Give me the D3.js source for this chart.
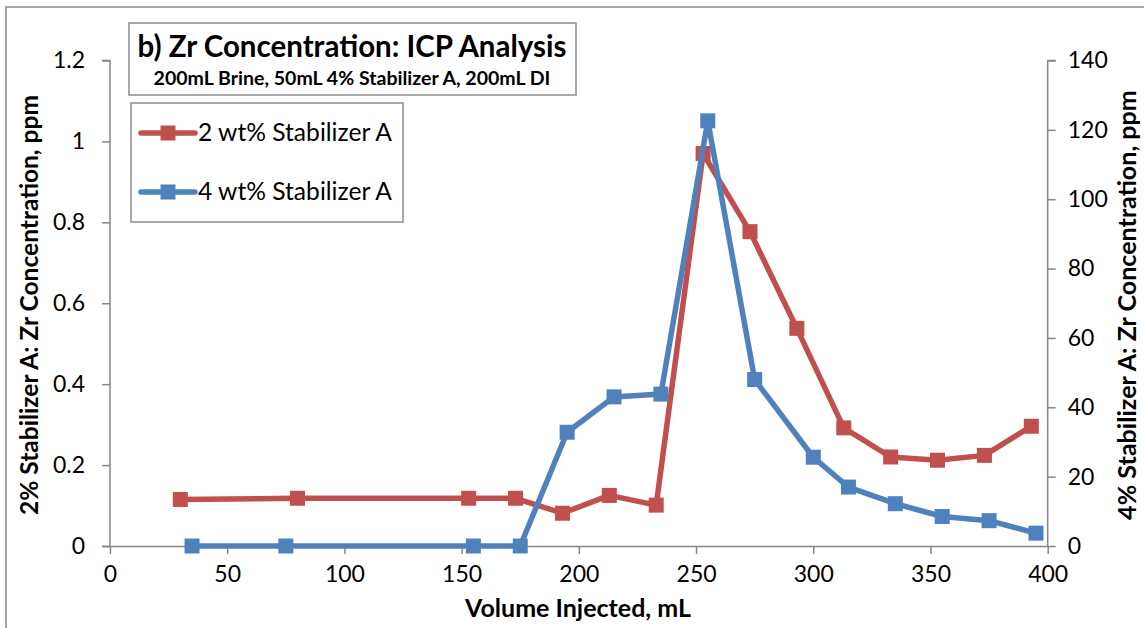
<!DOCTYPE html>
<html>
<head>
<meta charset="utf-8">
<script src="https://cdn.jsdelivr.net/npm/d3@7"></script>
<style>
  body { margin: 0; background: #fff; }
  text { font-family: Lato, "Open Sans", sans-serif; fill: #000; }
</style>
</head>
<body>
<div id="chart"></div>
<script>
// Data
var volume2 = [30, 80, 153, 173, 193, 213, 233, 253, 273, 293, 313, 333, 353, 373, 393];
var conc2 = [0.115, 0.118, 0.118, 0.118, 0.081, 0.125, 0.101, 0.97, 0.777, 0.538, 0.292, 0.22, 0.212, 0.224, 0.296];
var volume4 = [35, 75, 155, 175, 195, 215, 235, 255, 275, 300, 315, 335, 355, 375, 395];
var conc4 = [0, 0, 0, 0, 32.8, 43, 43.8, 122.6, 48, 25.6, 17, 12.2, 8.5, 7.3, 3.7];
var xTicks = [0, 50, 100, 150, 200, 250, 300, 350, 400];
var leftTicks = [0, 0.2, 0.4, 0.6, 0.8, 1, 1.2];
var rightTicks = [0, 20, 40, 60, 80, 100, 120, 140];
var seriesNames = ["2 wt% Stabilizer A", "4 wt% Stabilizer A"];

var width = 1144, height = 628;
var red = "#c0504d", blue = "#4f81bd", axisGray = "#868686";

// Plot area
var plotLeft = 110, plotRight = 1047.7, plotTop = 60.5, plotBottom = 546;

function fitWidth(sel, target) {
  var w = sel.node().getComputedTextLength();
  var fs = parseFloat(sel.style("font-size"));
  sel.style("font-size", (fs * target / w) + "px");
}

var svg = d3.select("#chart").append("svg")
  .attr("width", width)
  .attr("height", height);

// Outer chart border (runs off the picture at right and bottom)
svg.append("rect")
  .attr("x", 6).attr("y", 7)
  .attr("width", 1200).attr("height", 700)
  .attr("fill", "none")
  .attr("stroke", "#8c8c8c")
  .attr("stroke-width", 1.5);

var x = d3.scaleLinear().domain([0, 400]).range([plotLeft, plotRight]);
var yL = d3.scaleLinear().domain([0, 1.2]).range([plotBottom, plotTop]);
var yR = d3.scaleLinear().domain([0, 140]).range([plotBottom, plotTop]);

// Axes
var xAxis = svg.append("g")
  .attr("transform", "translate(0," + plotBottom + ")")
  .call(d3.axisBottom(x).tickValues(xTicks).tickSize(8).tickPadding(12).tickFormat(d3.format("d")));

var yAxisL = svg.append("g")
  .attr("transform", "translate(" + plotLeft + ",0)")
  .call(d3.axisLeft(yL).tickValues(leftTicks).tickSize(8).tickPadding(17).tickFormat(function(d) { return String(d); }));

var yAxisR = svg.append("g")
  .attr("transform", "translate(" + plotRight + ",0)")
  .call(d3.axisRight(yR).tickValues(rightTicks).tickSize(8).tickPadding(12).tickFormat(d3.format("d")));

[xAxis, yAxisL, yAxisR].forEach(function(g) {
  g.select(".domain").attr("stroke", axisGray).attr("stroke-width", 1.5);
  g.selectAll(".tick line").attr("stroke", axisGray).attr("stroke-width", 1.5);
  g.selectAll(".tick text")
    .style("font-family", "Lato, 'Open Sans', sans-serif")
    .style("font-size", "23px")
    .attr("fill", "#000");
});
// domain lines without the d3 end caps
xAxis.select(".domain").attr("d", "M" + (plotLeft - 8) + ",0.5H" + plotRight);
yAxisL.select(".domain").attr("d", "M-8," + plotTop + "H0V" + plotBottom);
yAxisR.select(".domain").attr("d", "M8," + plotTop + "H0V" + plotBottom);

// Lines and markers
var line2 = d3.line()
  .x(function(d, i) { return x(volume2[i]); })
  .y(function(d) { return yL(d); });
var line4 = d3.line()
  .x(function(d, i) { return x(volume4[i]); })
  .y(function(d) { return yR(d); });

var ms = 15;

svg.append("path")
  .datum(conc2)
  .attr("d", line2)
  .attr("fill", "none")
  .attr("stroke", red)
  .attr("stroke-width", 5.5)
  .attr("stroke-linejoin", "round");

svg.selectAll(".m2")
  .data(conc2)
  .enter().append("rect")
  .attr("class", "m2")
  .attr("x", function(d, i) { return x(volume2[i]) - ms / 2; })
  .attr("y", function(d) { return yL(d) - ms / 2; })
  .attr("width", ms).attr("height", ms)
  .attr("fill", red);

svg.append("path")
  .datum(conc4)
  .attr("d", line4)
  .attr("fill", "none")
  .attr("stroke", blue)
  .attr("stroke-width", 5.5)
  .attr("stroke-linejoin", "round");

svg.selectAll(".m4")
  .data(conc4)
  .enter().append("rect")
  .attr("class", "m4")
  .attr("x", function(d, i) { return x(volume4[i]) - ms / 2; })
  .attr("y", function(d) { return yR(d) - ms / 2; })
  .attr("width", ms).attr("height", ms)
  .attr("fill", blue);

// Title box
svg.append("rect")
  .attr("x", 129).attr("y", 23)
  .attr("width", 447).attr("height", 72)
  .attr("fill", "#fff")
  .attr("stroke", "#8c8c8c")
  .attr("stroke-width", 1.5);

var title = svg.append("text")
  .attr("x", 352).attr("y", 57)
  .attr("text-anchor", "middle")
  .style("font-weight", "bold")
  .style("font-size", "26px")
  .text("b) Zr Concentration: ICP Analysis");
fitWidth(title, 429);

var subtitle = svg.append("text")
  .attr("x", 352).attr("y", 85)
  .attr("text-anchor", "middle")
  .style("font-weight", "bold")
  .style("font-size", "15px")
  .text("200mL Brine, 50mL 4% Stabilizer A, 200mL DI");
fitWidth(subtitle, 397);

// Legend
svg.append("rect")
  .attr("x", 131).attr("y", 103)
  .attr("width", 272).attr("height", 119)
  .attr("fill", "#fff")
  .attr("stroke", "#8c8c8c")
  .attr("stroke-width", 1.5);

var legendRows = [{name: seriesNames[0], color: red, y: 133}, {name: seriesNames[1], color: blue, y: 192}];
var lg = svg.selectAll(".legend")
  .data(legendRows)
  .enter().append("g")
  .attr("class", "legend");
lg.append("line")
  .attr("x1", 141).attr("x2", 195)
  .attr("y1", function(d) { return d.y; }).attr("y2", function(d) { return d.y; })
  .attr("stroke", function(d) { return d.color; })
  .attr("stroke-width", 5.5)
  .attr("stroke-linecap", "round");
lg.append("rect")
  .attr("x", 168 - ms / 2).attr("y", function(d) { return d.y - ms / 2; })
  .attr("width", ms).attr("height", ms)
  .attr("fill", function(d) { return d.color; });
lg.append("text")
  .attr("x", 198).attr("y", function(d) { return d.y + 8; })
  .style("font-size", "22px")
  .text(function(d) { return d.name; })
  .each(function() { fitWidth(d3.select(this), 194); });

// Axis titles
var xTitle = svg.append("text")
  .attr("x", 578).attr("y", 617)
  .attr("text-anchor", "middle")
  .style("font-weight", "bold")
  .style("font-size", "20px")
  .text("Volume Injected, mL");
fitWidth(xTitle, 226);

var lTitle = svg.append("text")
  .attr("transform", "translate(38,305) rotate(-90)")
  .attr("text-anchor", "middle")
  .style("font-weight", "bold")
  .style("font-size", "20px")
  .text("2% Stabilizer A: Zr Concentration, ppm");
fitWidth(lTitle, 420);

var rTitle = svg.append("text")
  .attr("transform", "translate(1136,305) rotate(-90)")
  .attr("text-anchor", "middle")
  .style("font-weight", "bold")
  .style("font-size", "20px")
  .text("4% Stabilizer A: Zr Concentration, ppm");
fitWidth(rTitle, 430);
</script>
</body>
</html>
